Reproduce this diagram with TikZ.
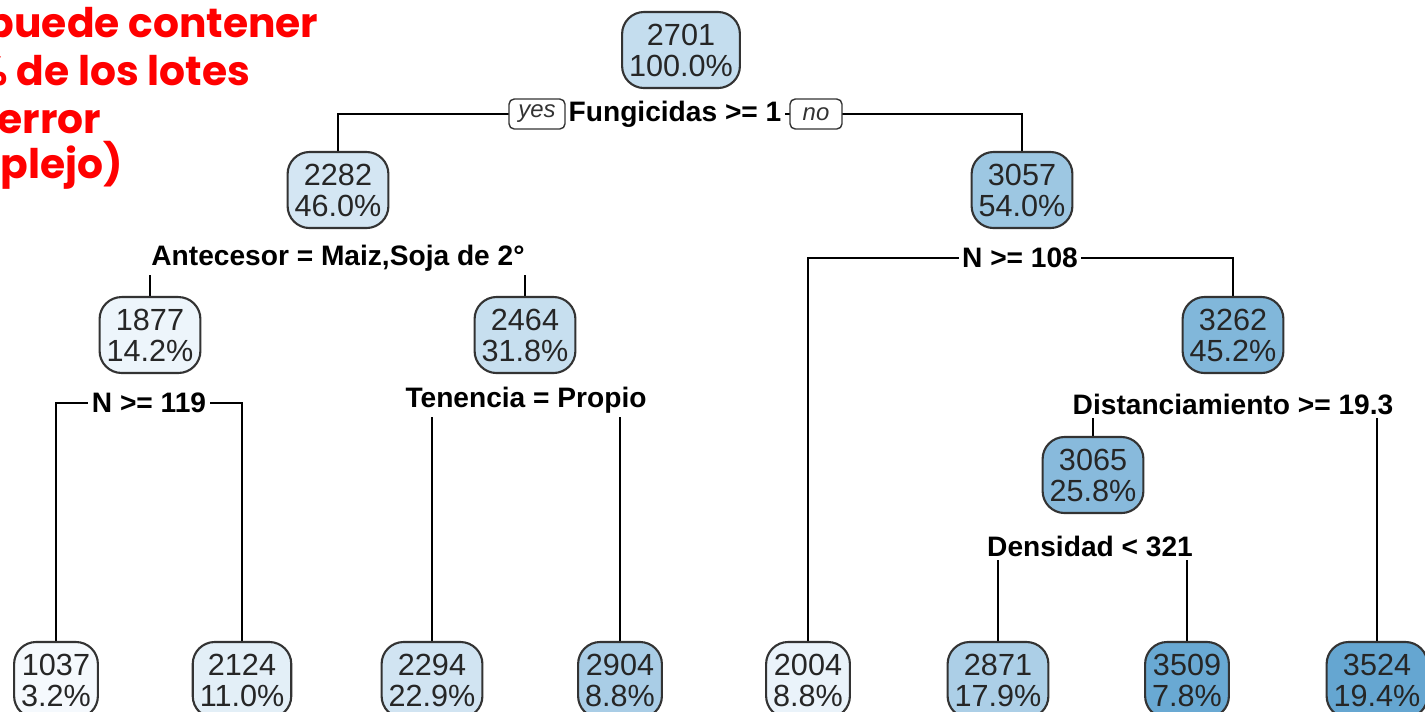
\documentclass[tikz,border=0pt]{standalone}
\usepackage{fontspec}
\setmainfont{Liberation Sans}
\newfontfamily\poppins{Poppins}
\usetikzlibrary{backgrounds}
\definecolor{leaflo}{HTML}{F5F9FD}
\definecolor{leafhi}{HTML}{5DA2CF}
\definecolor{notered}{HTML}{FF0000}

\begin{document}
\begin{tikzpicture}[x=0.01cm, y=-0.01cm,
  leaf/.style={draw=black!80, line width=0.6pt, fill=leafhi!#1!leaflo, rounded corners=0.22cm,
    minimum height=0.72cm, inner xsep=2pt, align=center, text=black!85,
    font=\fontsize{8.7}{8.8}\selectfont},
  split/.style={fill=white, inner sep=1pt, font=\fontsize{8}{9}\bfseries\selectfont},
  yn/.style={draw=black!80, fill=white, rounded corners=1.5pt, minimum height=0.3cm,
    inner sep=1pt, text=black!80, font=\fontsize{6.8}{7}\itshape\selectfont},
  note/.style={anchor=base west, inner sep=0pt, text=notered,
    font=\fontsize{11.6}{13}\poppins\bfseries\selectfont}]
\useasboundingbox (0,0) rectangle (1425,711);
\clip (0,0) rectangle (1425,711);

\node[note] (note1) at (-14,37) {puede contener};
\node[note] (note2) at (-28,85) {\% de los lotes};
\node[note] (note3) at (-3,133) {error};
\node[note] (note4) at (0,178) {plejo)};

\node[leaf=32] (n2701) at (681,50) {2701\\100.0\%};
\node[leaf=22] (n2282) at (338,190) {2282\\46.0\%};
\node[leaf=58] (n3057) at (1022,190) {3057\\54.0\%};
\node[leaf=5] (n1877) at (150,335) {1877\\14.2\%};
\node[leaf=30] (n2464) at (525,335) {2464\\31.8\%};
\node[leaf=76] (n3262) at (1233,335) {3262\\45.2\%};
\node[leaf=72] (n3065) at (1093,475) {3065\\25.8\%};
\node[leaf=0] (n1037) at (56,680) {1037\\3.2\%};
\node[leaf=12] (n2124) at (242,680) {2124\\11.0\%};
\node[leaf=24] (n2294) at (432,680) {2294\\22.9\%};
\node[leaf=50] (n2904) at (620,680) {2904\\8.8\%};
\node[leaf=7] (n2004) at (808,680) {2004\\8.8\%};
\node[leaf=48] (n2871) at (998,680) {2871\\17.9\%};
\node[leaf=92] (n3509) at (1187,680) {3509\\7.8\%};
\node[leaf=95] (n3524) at (1377,680) {3524\\19.4\%};

\node[split] (fung) at (675,114) {Fungicidas >= 1};
\node[yn, minimum width=0.56cm] (yes) at (537,114) {yes};
\node[yn, minimum width=0.52cm] (no) at (816,114) {no};
\node[split] (ante) at (338,258) {Antecesor = Maiz,Soja de 2°};
\node[split] (n119) at (149,403) {N >= 119};
\node[split] (tene) at (526,400) {Tenencia = Propio};
\node[split] (n108) at (1020,258) {N >= 108};
\node[split] (dist) at (1233,404) {Distanciamiento >= 19.3};
\node[split] (dens) at (1090,546) {Densidad < 321};

\begin{scope}[on background layer, line width=0.6pt]
\draw (n2282.north) |- (fung.center) -| (n3057.north);
\draw (n1877.north) |- (ante.center) -| (n2464.north);
\draw (n1037.north) |- (n119.center) -| (n2124.north);
\draw (n2294.north) |- (tene.center) -| (n2904.north);
\draw (n2004.north) |- (n108.center) -| (n3262.north);
\draw (n3065.north) |- (dist.center) -| (n3524.north);
\draw (n2871.north) |- (dens.center) -| (n3509.north);
\end{scope}
\end{tikzpicture}
\end{document}
